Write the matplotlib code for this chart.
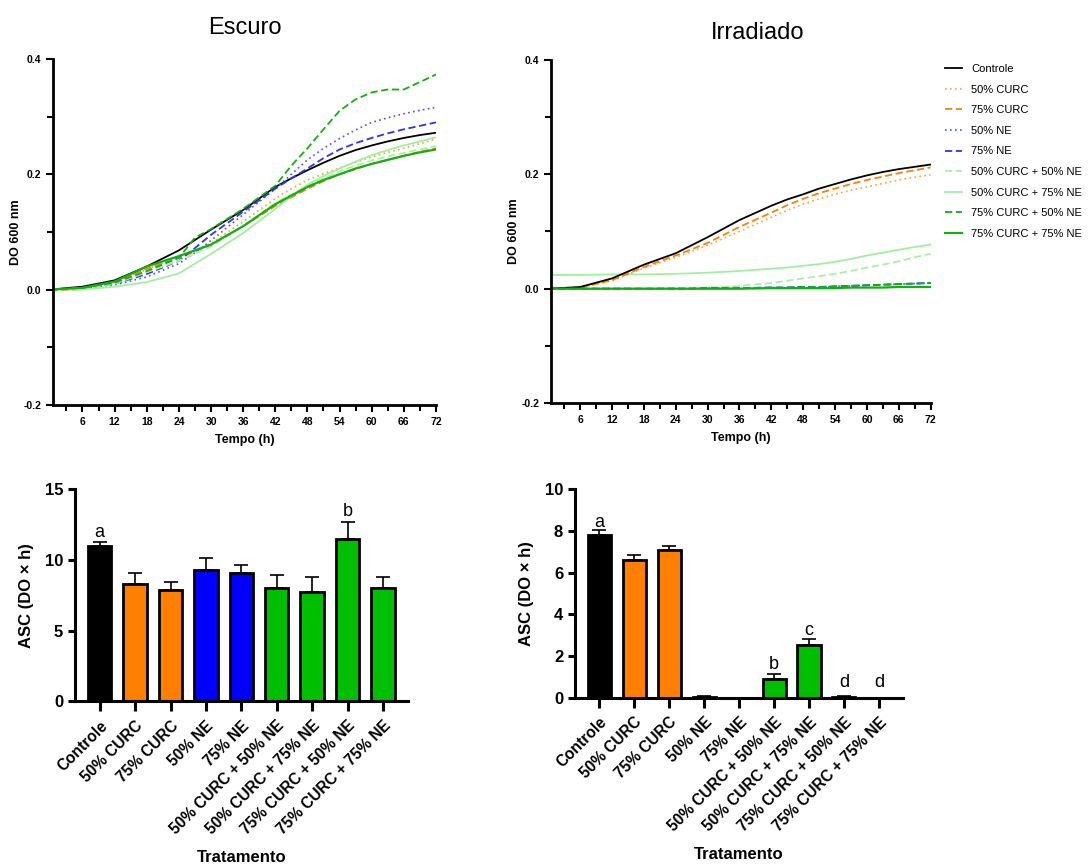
import matplotlib
matplotlib.use("Agg")
import matplotlib.pyplot as plt
from matplotlib.ticker import MultipleLocator, FixedLocator, NullFormatter

plt.rcParams['font.family'] = ['Liberation Sans', 'DejaVu Sans']

# ---------------- data ----------------
t = [0, 6, 12, 18, 24, 27, 30, 36, 42, 45, 48, 51, 54, 57, 60, 63, 66, 69, 72]

series_names = ["Controle", "50% CURC", "75% CURC", "50% NE", "75% NE",
                "50% CURC + 50% NE", "50% CURC + 75% NE",
                "75% CURC + 50% NE", "75% CURC + 75% NE"]

# Escuro (dark) growth curves, DO 600 nm
esc_controle = [0, 0.005, 0.016, 0.040, 0.068, 0.086, 0.104, 0.138, 0.178, 0.193, 0.207, 0.220, 0.232, 0.242, 0.250, 0.257, 0.263, 0.268, 0.272]
esc_c50      = [0, 0.002, 0.012, 0.035, 0.057, 0.068, 0.080, 0.118, 0.158, 0.175, 0.190, 0.201, 0.211, 0.221, 0.230, 0.238, 0.245, 0.253, 0.261]
esc_c75      = [-0.002, 0.001, 0.012, 0.036, 0.055, 0.066, 0.078, 0.110, 0.145, 0.160, 0.175, 0.188, 0.200, 0.209, 0.218, 0.225, 0.232, 0.239, 0.245]
esc_ne50     = [0, 0.002, 0.008, 0.022, 0.045, 0.064, 0.085, 0.130, 0.175, 0.200, 0.225, 0.245, 0.262, 0.277, 0.290, 0.298, 0.305, 0.311, 0.316]
esc_ne75     = [0, 0.003, 0.010, 0.027, 0.050, 0.072, 0.095, 0.135, 0.175, 0.193, 0.210, 0.228, 0.243, 0.254, 0.263, 0.271, 0.278, 0.284, 0.290]
esc_c50ne50  = [0, 0.002, 0.010, 0.030, 0.050, 0.062, 0.075, 0.110, 0.150, 0.165, 0.180, 0.193, 0.205, 0.215, 0.224, 0.231, 0.237, 0.243, 0.249]
esc_c50ne75  = [0, 0.000, 0.005, 0.013, 0.028, 0.045, 0.062, 0.098, 0.140, 0.162, 0.182, 0.197, 0.210, 0.222, 0.233, 0.242, 0.250, 0.257, 0.264]
esc_c75ne50  = [0, 0.003, 0.012, 0.032, 0.055, 0.090, 0.105, 0.140, 0.180, 0.215, 0.245, 0.278, 0.310, 0.330, 0.342, 0.347, 0.347, 0.360, 0.373]
esc_c75ne75  = [0, 0.003, 0.014, 0.040, 0.058, 0.068, 0.078, 0.110, 0.148, 0.163, 0.178, 0.190, 0.200, 0.210, 0.218, 0.225, 0.232, 0.238, 0.243]

# Irradiado growth curves, DO 600 nm
irr_controle = [0, 0.003, 0.018, 0.042, 0.062, 0.076, 0.090, 0.120, 0.145, 0.156, 0.165, 0.175, 0.183, 0.191, 0.198, 0.204, 0.209, 0.213, 0.217]
irr_c50      = [0, 0.002, 0.014, 0.036, 0.055, 0.065, 0.076, 0.100, 0.125, 0.137, 0.148, 0.157, 0.165, 0.172, 0.178, 0.184, 0.190, 0.195, 0.199]
irr_c75      = [0, 0.002, 0.015, 0.038, 0.058, 0.069, 0.080, 0.108, 0.133, 0.146, 0.157, 0.167, 0.175, 0.183, 0.190, 0.196, 0.202, 0.207, 0.212]
irr_ne50     = [0, 0, 0, 0, 0.000, 0.000, 0.001, 0.001, 0.002, 0.002, 0.003, 0.003, 0.004, 0.005, 0.006, 0.007, 0.008, 0.009, 0.010]
irr_ne75     = [0, 0, 0, 0, 0.000, 0.000, 0.001, 0.001, 0.002, 0.002, 0.003, 0.003, 0.004, 0.005, 0.006, 0.007, 0.008, 0.009, 0.010]
irr_c50ne50  = [0, 0, 0, 0, 0.001, 0.001, 0.002, 0.005, 0.010, 0.014, 0.018, 0.022, 0.026, 0.031, 0.037, 0.042, 0.048, 0.055, 0.061]
irr_c50ne75  = [0.024, 0.024, 0.025, 0.025, 0.026, 0.027, 0.028, 0.031, 0.035, 0.037, 0.040, 0.043, 0.047, 0.052, 0.058, 0.063, 0.068, 0.073, 0.077]
irr_c75ne50  = [0, 0, 0, 0, 0.000, 0.000, 0.001, 0.001, 0.002, 0.002, 0.003, 0.003, 0.004, 0.005, 0.006, 0.007, 0.008, 0.009, 0.010]
irr_c75ne75  = [0, 0, 0, 0, 0.000, 0.000, 0.000, 0.000, 0.001, 0.001, 0.001, 0.001, 0.001, 0.002, 0.002, 0.002, 0.003, 0.003, 0.003]

# AUC bars
categories = series_names
esc_auc = [11.0, 8.3, 7.85, 9.3, 9.1, 8.0, 7.75, 11.5, 8.0]
esc_err = [0.25, 0.8, 0.6, 0.85, 0.5, 0.95, 1.0, 1.2, 0.8]
esc_letters = ["a", "", "", "", "", "", "", "b", ""]

irr_auc = [7.78, 6.62, 7.08, 0.05, 0.0, 0.93, 2.52, 0.05, 0.0]
irr_err = [0.24, 0.24, 0.17, 0.06, 0.0, 0.22, 0.30, 0.05, 0.0]
irr_letters = ["a", "", "", "", "", "b", "c", "d", "d"]

# ---------------- styles ----------------
line_styles = [
    dict(color="#000000", ls="-", lw=1.3),
    dict(color="#ffa040", ls=(0, (1, 2)), lw=1.2),
    dict(color="#ff7f00", ls=(0, (4, 2)), lw=1.3),
    dict(color="#5050ff", ls=(0, (1, 2)), lw=1.2),
    dict(color="#3030ff", ls=(0, (4, 2)), lw=1.3),
    dict(color="#a8f0a8", ls=(0, (4, 2)), lw=1.3),
    dict(color="#a0f0a0", ls="-", lw=1.3),
    dict(color="#10b010", ls=(0, (4, 2)), lw=1.3),
    dict(color="#10b010", ls="-", lw=1.6),
]
bar_colors = ["#000000", "#ff8000", "#ff8000", "#0000ff", "#0000ff",
              "#00bf00", "#00bf00", "#00bf00", "#00bf00"]

fig = plt.figure(figsize=(10.91, 8.67), dpi=100)

def style_curve_axes(ax):
    ax.set_xlim(0.5, 72)
    ax.set_ylim(-0.2, 0.4)
    for s in ["top", "right"]:
        ax.spines[s].set_visible(False)
    for s in ["left", "bottom"]:
        ax.spines[s].set_linewidth(2)
    ax.xaxis.set_major_locator(FixedLocator(list(range(6, 73, 6))))
    ax.xaxis.set_minor_locator(FixedLocator(list(range(3, 73, 6))))
    ax.yaxis.set_major_locator(MultipleLocator(0.2))
    ax.yaxis.set_minor_locator(MultipleLocator(0.1))
    ax.yaxis.set_minor_formatter(NullFormatter())
    ax.tick_params(which="both", direction="out", width=1.5, labelsize=7.5)
    ax.tick_params(which="major", length=5)
    ax.tick_params(which="minor", length=4)
    ax.set_yticklabels([f"{v:.1f}" for v in ax.get_yticks()], fontweight="bold")
    for lab in ax.get_xticklabels():
        lab.set_fontweight("bold")
    ax.set_xlabel("Tempo (h)", fontsize=9, fontweight="bold", labelpad=5)
    ax.set_ylabel("DO 600 nm", fontsize=9, fontweight="bold", labelpad=1)

ax1 = fig.add_axes([0.0486, 0.533, 0.351, 0.399])
esc = [esc_controle, esc_c50, esc_c75, esc_ne50, esc_ne75, esc_c50ne50, esc_c50ne75, esc_c75ne50, esc_c75ne75]
for name, y, st in zip(series_names, esc, line_styles):
    ax1.plot(t, y, label=name, **st)
style_curve_axes(ax1)

ax2 = fig.add_axes([0.505, 0.535, 0.348, 0.396])
irr = [irr_controle, irr_c50, irr_c75, irr_ne50, irr_ne75, irr_c50ne50, irr_c50ne75, irr_c75ne50, irr_c75ne75]
order = [6, 5, 1, 2, 0, 3, 4, 7, 8]
handles = [None] * 9
for i in order:
    h, = ax2.plot(t, irr[i], label=series_names[i], **line_styles[i])
    handles[i] = h
style_curve_axes(ax2)
leg = ax2.legend(handles=handles, labels=series_names, loc="upper left",
                 bbox_to_anchor=(1.025, 1.0), frameon=False, fontsize=8,
                 handlelength=1.6, handletextpad=0.8, labelspacing=0.95,
                 borderaxespad=0.0)

title_font = dict(fontsize=17, family=["Liberation Sans Narrow", "Liberation Sans"],
                  fontstretch="condensed")
fig.text(0.2245, 0.968, "Escuro", ha="center", va="center", **title_font)
fig.text(0.694, 0.962, "Irradiado", ha="center", va="center", **title_font)

def bar_axes(rect, vals, errs, letters, ymax, ystep, letter_pos):
    ax = fig.add_axes(rect)
    x = list(range(len(categories)))
    ax.bar(x, vals, width=0.66, color=bar_colors, edgecolor="black", linewidth=2, zorder=2)
    for xi, v, e in zip(x, vals, errs):
        if e > 0:
            ax.errorbar([xi], [v], yerr=[[0], [e]], fmt="none", ecolor="black",
                        elinewidth=1.2, capsize=5, capthick=1.2, zorder=1)
    for xi, l, p in zip(x, letters, letter_pos):
        if l:
            ax.text(xi, p, l, ha="center", va="center", fontsize=13)
    ax.set_xlim(-0.7, 8.7)
    ax.set_ylim(0, ymax)
    ax.yaxis.set_major_locator(MultipleLocator(ystep))
    for s in ["top", "right"]:
        ax.spines[s].set_visible(False)
    for s in ["left", "bottom"]:
        ax.spines[s].set_linewidth(2.2)
    ax.set_xticks(x)
    ax.set_xticklabels(categories, rotation=45, ha="right", rotation_mode="anchor",
                       fontsize=11.2, fontweight="bold")
    ax.tick_params(axis="x", length=7, width=2.2, pad=5)
    ax.tick_params(axis="y", length=5, width=2.2, labelsize=12)
    for lab in ax.get_yticklabels():
        lab.set_fontweight("bold")
    ax.set_ylabel("ASC (DO × h)", fontsize=12, fontweight="bold", labelpad=8)
    ax.set_xlabel("Tratamento", fontsize=12, fontweight="bold")
    return ax

esc_letter_pos = [11.9, 0, 0, 0, 0, 0, 0, 13.4, 0]
irr_letter_pos = [8.42, 0, 0, 0, 0, 1.58, 3.25, 0.72, 0.72]

ax3 = bar_axes([0.0687, 0.191, 0.305, 0.245], esc_auc, esc_err, esc_letters, 15, 5, esc_letter_pos)
ax4 = bar_axes([0.527, 0.195, 0.301, 0.241], irr_auc, irr_err, irr_letters, 10, 2, irr_letter_pos)
ax3.xaxis.set_label_coords(0.5, -0.70)
ax4.xaxis.set_label_coords(0.5, -0.713)

fig.savefig("out.png", dpi=100)
